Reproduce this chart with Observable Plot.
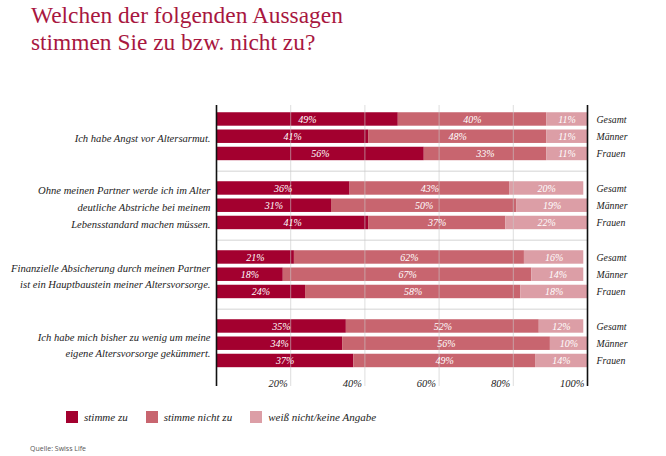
<!DOCTYPE html>
<html>
<head>
<meta charset="utf-8">
<script src="https://cdn.jsdelivr.net/npm/d3@7"></script>
<script src="https://cdn.jsdelivr.net/npm/@observablehq/plot@0.6"></script>
<style>
  html, body { margin: 0; padding: 0; background: #fff; }
  body { width: 666px; height: 456px; position: relative; overflow: hidden; }
  .serif { font-family: "Liberation Serif", "Times New Roman", Times, "DejaVu Serif", serif; }
  #title { position: absolute; left: 31px; top: 2px; font-size: 23.4px; line-height: 27px; color: #a8173f; }
  #chart { position: absolute; left: 0; top: 90px; }
  #legend { position: absolute; left: 66px; top: 411px; font-style: italic; font-size: 11px; color: #222; display: flex; align-items: center; }
  #legend .item { display: flex; align-items: center; margin-right: 18px; }
  #legend .sw { width: 12px; height: 12px; margin-right: 6px; }
  #source { position: absolute; left: 30px; top: 444px; font-family: "Open Sans", "DejaVu Sans", sans-serif; font-size: 7px; color: #555; }
  #chart svg, #chart svg text { font-family: "Liberation Serif", "Times New Roman", Times, "DejaVu Serif", serif !important; }
</style>
</head>
<body>
<div id="title" class="serif">Welchen der folgenden Aussagen<br>stimmen Sie zu bzw. nicht zu?</div>
<div id="chart"></div>
<div id="legend" class="serif"></div>
<div id="source">Quelle: Swiss Life</div>
<script>
const questions = [
  "Ich habe Angst vor Altersarmut.",
  "Ohne meinen Partner werde ich im Alter\ndeutliche Abstriche bei meinem\nLebensstandard machen müssen.",
  "Finanzielle Absicherung durch meinen Partner\nist ein Hauptbaustein meiner Altersvorsorge.",
  "Ich habe mich bisher zu wenig um meine\neigene Altersvorsorge gekümmert."
];
const rowLabels = ["Gesamt", "Männer", "Frauen"];
const categories = ["stimme zu", "stimme nicht zu", "weiß nicht/keine Angabe"];
const colors = ["#a3002f", "#c8656f", "#dc9ea6"];
const agree    = [49, 41, 56,  36, 31, 41,  21, 18, 24,  35, 34, 37];
const disagree = [40, 48, 33,  43, 50, 37,  62, 67, 58,  52, 56, 49];
const unknown  = [11, 11, 11,  20, 19, 22,  16, 14, 18,  12, 10, 14];
const tickValues = [20, 40, 60, 80, 100];

// build table: slot = group*4 + row
const segs = [];
const rows = [];
agree.forEach((_, k) => {
  const g = Math.floor(k / 3), r = k % 3, slot = g * 4 + r;
  const vals = [agree[k], disagree[k], unknown[k]];
  let acc = 0;
  vals.forEach((v, c) => {
    segs.push({slot, category: categories[c], value: v, x1: acc, x2: acc + v});
    acc += v;
  });
  rows.push({slot, label: rowLabels[r]});
});
const qData = questions.map((q, g) => ({slot: g * 4 + 1, text: q}));
const seps = [3, 7, 11];
const yTop = -0.81, yBot = 15.48;

const serif = "'Liberation Serif', 'Times New Roman', Times, 'DejaVu Serif', serif";
const chart = Plot.plot({
  width: 666,
  height: 310,
  marginTop: 15,
  marginBottom: 14,
  marginLeft: 216,
  marginRight: 79,
  x: {domain: [0, 100], axis: null},
  y: {domain: [yTop, yBot], reverse: true, axis: null},
  color: {domain: categories, range: colors},
  style: {fontFamily: serif, background: "transparent"},
  marks: [
    Plot.ruleY(seps, {x1: 0, x2: 100, y: d => d, stroke: "#e2e2e2", strokeWidth: 1.5}),
    Plot.rect(segs, {x1: "x1", x2: "x2", y1: d => d.slot - 0.39, y2: d => d.slot + 0.39, fill: "category"}),
    Plot.ruleX(tickValues.slice(0, 4), {x: d => d, y1: yTop, y2: yBot, stroke: "#c8c8c8", strokeOpacity: 0.6}),
    Plot.ruleX([0, 100], {x: d => d, y1: yTop, y2: yBot, stroke: "#111", strokeWidth: 1.6}),
    Plot.text(segs, {x: d => (d.x1 + d.x2) / 2, y: "slot", text: d => d.value + "%", fill: "white", fontStyle: "italic", fontSize: 10}),
    Plot.text(tickValues, {x: d => d, y: yBot, text: d => d + "%", textAnchor: "end", lineAnchor: "bottom", dx: -3, fontStyle: "italic", fontSize: 10.5, fill: "#222"}),
    Plot.text(qData, {x: 0, y: "slot", text: "text", textAnchor: "end", dx: -6, fontStyle: "italic", fontSize: 10.6, lineHeight: 1.56, fill: "#222"}),
    Plot.text(rows, {x: 100, y: "slot", text: "label", textAnchor: "start", dx: 9, fontStyle: "italic", fontSize: 9.8, fill: "#222"})
  ]
});
document.getElementById("chart").appendChild(chart);

const legend = document.getElementById("legend");
categories.forEach((c, i) => {
  const item = document.createElement("div");
  item.className = "item";
  const sw = document.createElement("div");
  sw.className = "sw";
  sw.style.background = chart.scale("color").apply(c);
  const t = document.createElement("span");
  t.textContent = c;
  item.appendChild(sw);
  item.appendChild(t);
  legend.appendChild(item);
});
</script>
</body>
</html>
